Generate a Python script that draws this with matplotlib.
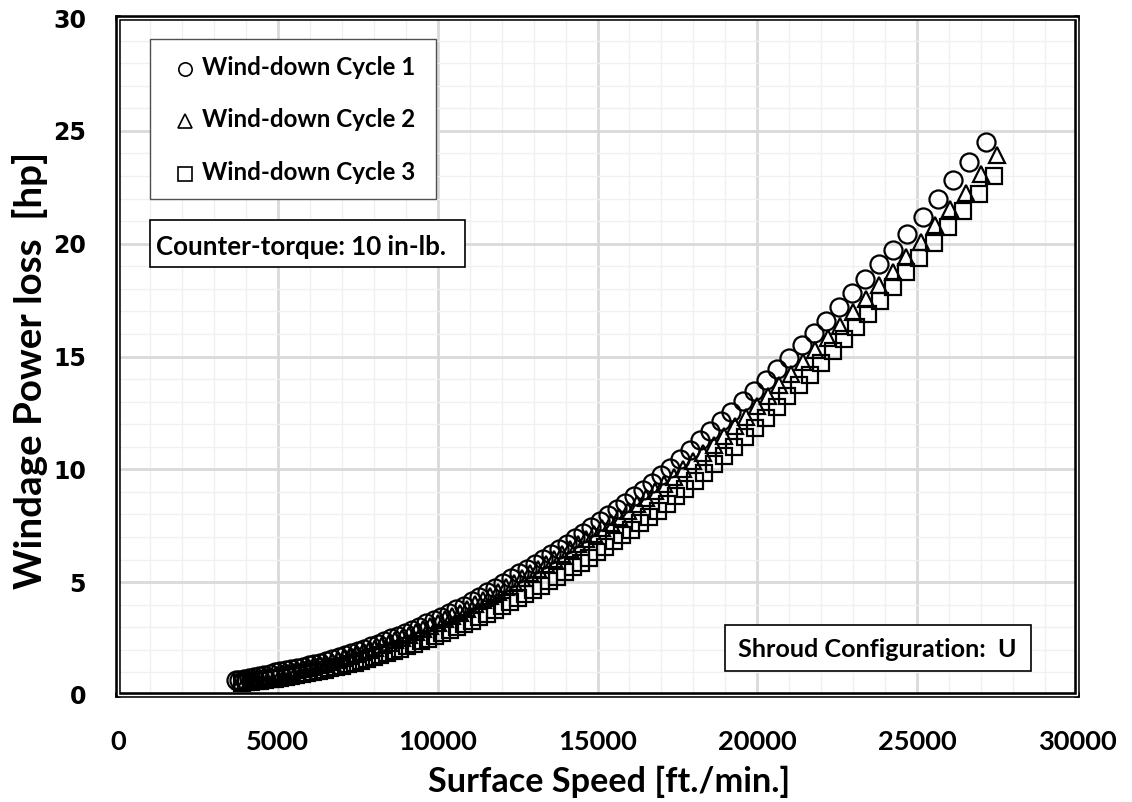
import matplotlib
matplotlib.use("Agg")
import matplotlib.pyplot as plt
from matplotlib.patches import Rectangle
from matplotlib.ticker import MultipleLocator

# wind-down cycle 1 (circles)
speed_c1 = [3690, 3800, 3950, 4105, 4260, 4420, 4580, 4745, 4910, 5080,
            5250, 5425, 5600, 5780, 5960, 6145, 6330, 6520, 6710, 6905,
            7100, 7300, 7500, 7705, 7910, 8120, 8330, 8545, 8760, 8980,
            9200, 9425, 9650, 9880, 10110, 10345, 10580, 10820, 11060, 11305,
            11550, 11795, 12040, 12290, 12540, 12790, 13040, 13290, 13540, 13790,
            14040, 14290, 14550, 14810, 15070, 15330, 15600, 15870, 16140, 16420,
            16700, 16990, 17280, 17580, 17890, 18200, 18520, 18850, 19190, 19560,
            19890, 20260, 20620, 21000, 21390, 21780, 22150, 22570, 22970, 23370,
            23810, 24230, 24690, 25170, 25660, 26130, 26630, 27150]
hp_c1 = [0.65, 0.68, 0.71, 0.76, 0.80, 0.84, 0.89, 0.94, 1.00, 1.05,
         1.11, 1.15, 1.20, 1.25, 1.31, 1.36, 1.42, 1.50, 1.59, 1.67,
         1.76, 1.86, 1.96, 2.06, 2.17, 2.28, 2.39, 2.51, 2.63, 2.76,
         2.89, 3.03, 3.17, 3.32, 3.47, 3.63, 3.79, 3.96, 4.16, 4.36,
         4.56, 4.76, 4.97, 5.18, 5.39, 5.60, 5.81, 6.03, 6.25, 6.48,
         6.71, 6.94, 7.19, 7.44, 7.70, 7.96, 8.23, 8.51, 8.80, 9.10,
         9.40, 9.73, 10.05, 10.45, 10.86, 11.28, 11.70, 12.13, 12.55, 13.03,
         13.46, 13.95, 14.43, 14.95, 15.50, 16.05, 16.59, 17.21, 17.81, 18.42,
         19.08, 19.72, 20.45, 21.20, 22.00, 22.80, 23.63, 24.50]

# wind-down cycle 2 (triangles)
speed_c2 = [3860, 4000, 4150, 4300, 4455, 4610, 4770, 4930, 5095, 5260,
            5430, 5600, 5775, 5950, 6130, 6310, 6495, 6680, 6870, 7060,
            7255, 7450, 7650, 7850, 8055, 8260, 8470, 8680, 8895, 9110,
            9330, 9550, 9775, 10000, 10230, 10460, 10695, 10930, 11170, 11410,
            11650, 11895, 12140, 12385, 12630, 12880, 13130, 13380, 13630, 13880,
            14130, 14380, 14630, 14890, 15150, 15410, 15680, 15950, 16230, 16510,
            16800, 17090, 17390, 17690, 18000, 18310, 18630, 18960, 19290, 19630,
            19980, 20330, 20690, 21060, 21430, 21810, 22200, 22590, 22990, 23400,
            23810, 24230, 24660, 25110, 25570, 26040, 26520, 27010, 27510]
hp_c2 = [0.63, 0.65, 0.68, 0.72, 0.76, 0.81, 0.85, 0.90, 0.93, 0.98,
         1.04, 1.09, 1.14, 1.19, 1.25, 1.31, 1.38, 1.46, 1.54, 1.63,
         1.71, 1.80, 1.90, 2.00, 2.10, 2.20, 2.31, 2.43, 2.54, 2.67,
         2.79, 2.92, 3.06, 3.20, 3.35, 3.50, 3.65, 3.81, 4.04, 4.21,
         4.38, 4.56, 4.78, 4.98, 5.19, 5.39, 5.59, 5.80, 6.01, 6.23,
         6.45, 6.67, 6.90, 7.14, 7.39, 7.64, 7.90, 8.17, 8.45, 8.74,
         9.04, 9.35, 9.68, 10.01, 10.35, 10.71, 11.08, 11.49, 11.90, 12.34,
         12.79, 13.26, 13.74, 14.24, 14.75, 15.28, 15.82, 16.37, 16.95, 17.55,
         18.15, 18.76, 19.42, 20.08, 20.82, 21.52, 22.26, 23.09, 23.94]

# wind-down cycle 3 (squares)
speed_c3 = [3880, 4010, 4150, 4300, 4450, 4605, 4760, 4920, 5080,
            5245, 5410, 5580, 5750, 5925, 6100, 6280, 6460, 6645, 6830,
            7020, 7210, 7405, 7600, 7800, 8000, 8205, 8410, 8620, 8830,
            9045, 9260, 9480, 9700, 9925, 10150, 10375, 10605, 10835,
            11070, 11305, 11540, 11780, 12020, 12260, 12500, 12745,
            12990, 13235, 13480, 13730, 13980, 14230, 14480, 14730,
            14990, 15250, 15510, 15780, 16050, 16320, 16600, 16880,
            17160, 17450, 17740, 18040, 18340, 18650, 18960,
            19280, 19600, 19930, 20260, 20600, 20940, 21290, 21640,
            22000, 22360, 22720, 23080, 23460, 23850, 24250, 24650,
            25070, 25520, 25980, 26440, 26940, 27400]
hp_c3 = [0.55, 0.56, 0.58, 0.61, 0.63, 0.66, 0.69, 0.72, 0.75,
         0.79, 0.83, 0.87, 0.91, 0.96, 1.01, 1.06, 1.12, 1.18, 1.24,
         1.30, 1.37, 1.44, 1.52, 1.60, 1.68, 1.77, 1.86, 1.95, 2.05,
         2.16, 2.26, 2.38, 2.50, 2.62, 2.75, 2.88, 3.01, 3.15,
         3.30, 3.45, 3.61, 3.77, 3.94, 4.10, 4.28, 4.46,
         4.65, 4.84, 5.03, 5.24, 5.44, 5.66, 5.87, 6.09,
         6.32, 6.56, 6.81, 7.07, 7.33, 7.60, 7.88, 8.17,
         8.46, 8.80, 9.13, 9.48, 9.85, 10.22, 10.61,
         11.01, 11.42, 11.85, 12.29, 12.76, 13.23, 13.72, 14.20,
         14.72, 15.23, 15.78, 16.32, 16.89, 17.48, 18.10, 18.73,
         19.35, 20.03, 20.72, 21.43, 22.22, 23.00]

labels = ["Wind-down Cycle 1", "Wind-down Cycle 2", "Wind-down Cycle 3"]
markers = ["o", "^", "s"]

W, H = 1132, 802
fig = plt.figure(figsize=(W / 100, H / 100), dpi=100)
ax = fig.add_axes([118 / W, (H - 695) / H, 959 / W, 677 / H])
renderer = fig.canvas.get_renderer()

bold = dict(family="Lato", weight="bold")


def fit_size(t, target, vertical=False):
    # scale the font so the text spans `target` pixels (as in the reference)
    for _ in range(2):
        bb = t.get_window_extent(renderer)
        cur = bb.height if vertical else bb.width
        t.set_fontsize(t.get_fontsize() * target / cur)


ax.plot(speed_c1, hp_c1, ls="none", marker="o", ms=13, mfc="none", mec="black", mew=1.6)
ax.plot(speed_c2, hp_c2, ls="none", marker="^", ms=12, mfc="none", mec="black", mew=1.6)
ax.plot(speed_c3, hp_c3, ls="none", marker="s", ms=11.5, mfc="none", mec="black", mew=1.6)

ax.set_xlim(0, 30000)
ax.set_ylim(0, 30)
ax.xaxis.set_major_locator(MultipleLocator(5000))
ax.xaxis.set_minor_locator(MultipleLocator(1000))
ax.yaxis.set_major_locator(MultipleLocator(5))
ax.yaxis.set_minor_locator(MultipleLocator(1))
ax.grid(which="major", color="#d9d9d9", lw=2)
ax.grid(which="minor", color="#f0f0f0", lw=1)
ax.set_axisbelow(True)
ax.tick_params(which="both", length=0)
ax.tick_params(axis="x", pad=25)
ax.tick_params(axis="y", pad=23)

# "10000" is 80 px wide, "30" is 33 px wide in the reference
probe = fig.text(0, 0, "10000", fontsize=22, **bold)
fit_size(probe, 80)
xsize = probe.get_fontsize()
probe.set_text("30")
probe.set_fontfamily("DejaVu Sans")
probe.set_fontsize(18)
fit_size(probe, 33)
ysize = probe.get_fontsize()
probe.remove()
ax.tick_params(axis="x", labelsize=xsize)
ax.tick_params(axis="y", labelsize=ysize)
for t in ax.get_xticklabels():
    t.set_fontfamily("Lato")
    t.set_fontweight("bold")
for t in ax.get_yticklabels():
    t.set_fontfamily("DejaVu Sans")
    t.set_fontweight("bold")

ax.set_xlabel("Surface Speed [ft./min.]", fontsize=24, **bold)
ax.set_ylabel("Windage Power loss  [hp]", fontsize=26, **bold)
fit_size(ax.xaxis.label, 362)
fit_size(ax.yaxis.label, 436, vertical=True)
ax.xaxis.set_label_coords(0.512, -0.128)
ax.xaxis.label.set_va("center")
ax.yaxis.set_label_coords(-0.092, 0.48)
ax.yaxis.label.set_va("center")

for s in ax.spines.values():
    s.set_linewidth(4)
    s.set_color("black")
# white line inside the frame to get the double border look
ax.add_patch(Rectangle((0, 0), 1, 1, transform=ax.transAxes, fill=False,
                       ec="white", lw=1, clip_on=False, zorder=10))

# legend box drawn by hand
ax.add_patch(Rectangle((0.0334, 0.7326), 0.2982, 0.2364, transform=ax.transAxes,
                       fc="white", ec="#505050", lw=1.0, zorder=5))
leg_mark_y = [0.9242, 0.8483, 0.7696]
leg_text_y = [0.9158, 0.8394, 0.7607]
for m, lab, my, ty in zip(markers, labels, leg_mark_y, leg_text_y):
    ax.plot([0.0699], [my], transform=ax.transAxes, ls="none", marker=m, ms=9.6,
            mfc="none", mec="black", mew=1.2, zorder=6, clip_on=False)
    t = ax.text(0.0872, ty, lab, transform=ax.transAxes, ha="left", va="baseline",
                fontsize=17.5, zorder=6, **bold)
    fit_size(t, 213)

# note boxes
ax.add_patch(Rectangle((0.0334, 0.6322), 0.3284, 0.0694, transform=ax.transAxes,
                       fc="white", ec="black", lw=1.2, zorder=5))
t = ax.text(0.0396, 0.650, "Counter-torque: 10 in-lb.", transform=ax.transAxes,
            ha="left", va="baseline", fontsize=18.5, zorder=6, **bold)
fit_size(t, 290)
ax.add_patch(Rectangle((0.6330, 0.0354), 0.3190, 0.0680, transform=ax.transAxes,
                       fc="white", ec="black", lw=1.2, zorder=5))
t = ax.text(0.6465, 0.0566, "Shroud Configuration:  U", transform=ax.transAxes,
            ha="left", va="baseline", fontsize=18, zorder=6, **bold)
fit_size(t, 277)

fig.savefig("out.png", dpi=100)
